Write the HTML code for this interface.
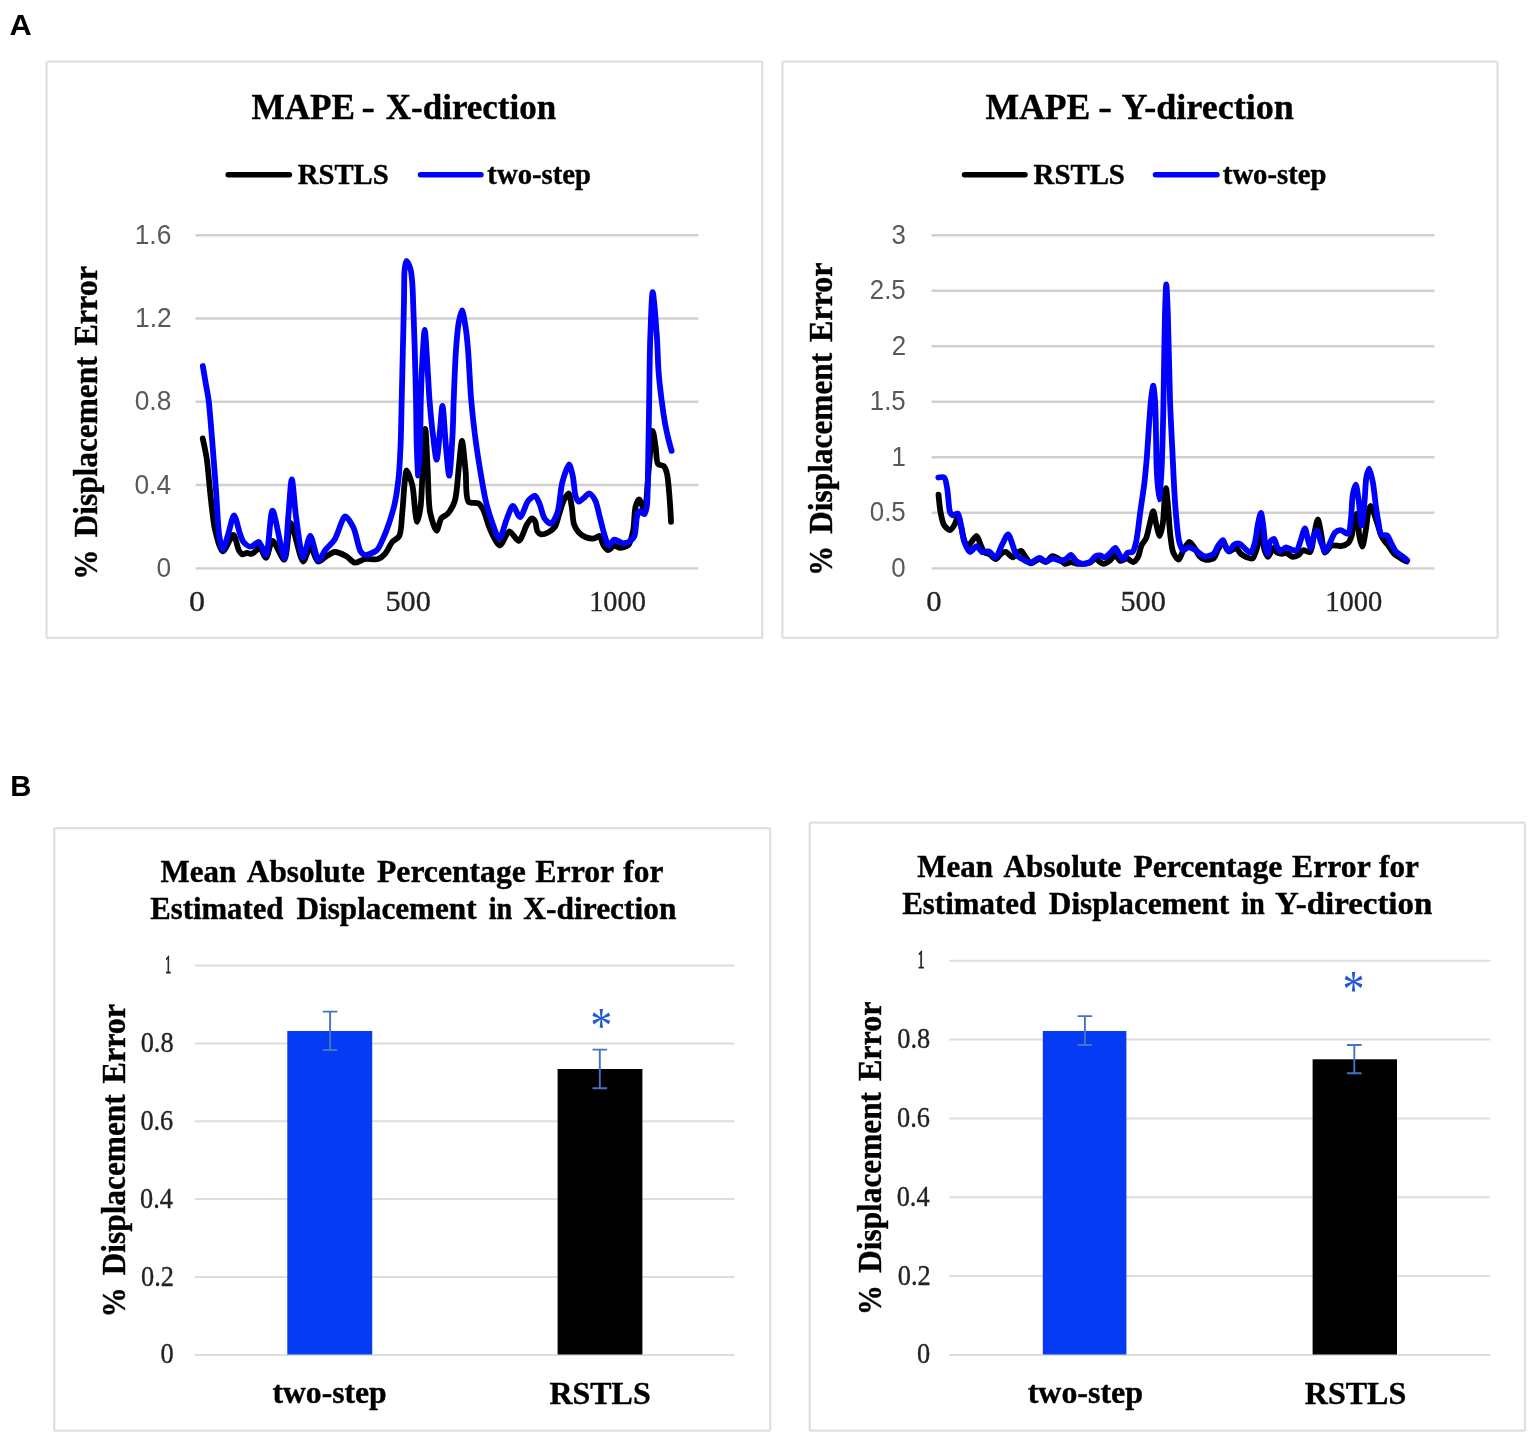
<!DOCTYPE html>
<html lang="en">
<head>
<meta charset="utf-8">
<title>MAPE comparison: RSTLS vs two-step</title>
<style>
html,body{margin:0;padding:0;background:#fff;}
body{width:1535px;height:1437px;overflow:hidden;}
svg{display:block;}
text{white-space:pre;}
</style>
</head>
<body>
<svg width="1535" height="1437" viewBox="0 0 1535 1437">
<rect width="1535" height="1437" fill="#fff"/>
<text transform="translate(9.53 34.70) scale(1.0299 1)" font-family='"Liberation Sans", sans-serif' font-size="29.86" font-weight="bold" fill="#000">A</text>
<text transform="translate(10.30 795.90) scale(0.9727 1)" font-family='"Liberation Sans", sans-serif' font-size="30.00" font-weight="bold" fill="#000">B</text>
<rect x="46.5" y="61.6" width="715.7" height="576.3" rx="1.5" fill="#fff" stroke="#e0e0e0" stroke-width="2.3"/>
<line x1="195.6" y1="235.2" x2="698.3" y2="235.2" stroke="#d0d0d0" stroke-width="2.4"/>
<line x1="195.6" y1="318.5" x2="698.3" y2="318.5" stroke="#d0d0d0" stroke-width="2.4"/>
<line x1="195.6" y1="401.8" x2="698.3" y2="401.8" stroke="#d0d0d0" stroke-width="2.4"/>
<line x1="195.6" y1="485.0" x2="698.3" y2="485.0" stroke="#d0d0d0" stroke-width="2.4"/>
<line x1="195.6" y1="568.4" x2="698.3" y2="568.4" stroke="#d0d0d0" stroke-width="2.4"/>
<text y="118.60" font-family='"Liberation Serif", serif' font-size="36.49" font-weight="bold" fill="#000" stroke="#000" stroke-width="0.4" stroke-linejoin="round"><tspan x="251.47" textLength="103.62" lengthAdjust="spacingAndGlyphs">MAPE</tspan> <tspan x="361.60" textLength="13.32" lengthAdjust="spacingAndGlyphs">-</tspan> <tspan x="385.80" textLength="170.41" lengthAdjust="spacingAndGlyphs">X-direction</tspan></text>
<line x1="228.2" y1="174.7" x2="289.4" y2="174.7" stroke="#000" stroke-width="5.5" stroke-linecap="round"/>
<text transform="translate(297.87 183.70) scale(0.9877 1)" font-family='"Liberation Serif", serif' font-size="29.01" font-weight="bold" fill="#000" stroke="#000" stroke-width="0.4" stroke-linejoin="round">RSTLS</text>
<line x1="420.5" y1="174.7" x2="481.0" y2="174.7" stroke="#0000ff" stroke-width="5.5" stroke-linecap="round"/>
<text transform="translate(487.37 183.60) scale(0.9775 1)" font-family='"Liberation Serif", serif' font-size="29.38" font-weight="bold" fill="#000" stroke="#000" stroke-width="0.4" stroke-linejoin="round">two-step</text>
<text transform="translate(134.72 243.80) scale(0.9709 1)" font-family='"Liberation Sans", sans-serif' font-size="27.14" fill="#595959">1.6</text>
<text transform="translate(134.99 327.10) scale(0.9709 1)" font-family='"Liberation Sans", sans-serif' font-size="27.14" fill="#595959">1.2</text>
<text transform="translate(134.72 410.40) scale(0.9709 1)" font-family='"Liberation Sans", sans-serif' font-size="27.14" fill="#595959">0.8</text>
<text transform="translate(134.46 493.60) scale(0.9709 1)" font-family='"Liberation Sans", sans-serif' font-size="27.14" fill="#595959">0.4</text>
<text transform="translate(156.60 577.00) scale(0.9709 1)" font-family='"Liberation Sans", sans-serif' font-size="27.14" fill="#595959">0</text>
<text transform="translate(188.91 611.30) scale(1.1133 1)" font-family='"Liberation Serif", serif' font-size="28.87" fill="#222" stroke="#222" stroke-width="0.3">0</text>
<text transform="translate(385.48 611.30) scale(1.0490 1)" font-family='"Liberation Serif", serif' font-size="28.87" fill="#222" stroke="#222" stroke-width="0.3">500</text>
<text transform="translate(589.19 611.30) scale(0.9827 1)" font-family='"Liberation Serif", serif' font-size="28.87" fill="#222" stroke="#222" stroke-width="0.3">1000</text>
<text transform="translate(96.80 576.50) rotate(-90)" font-family='"Liberation Serif", serif' font-size="32.98" font-weight="bold" fill="#000" stroke="#000" stroke-width="0.4" stroke-linejoin="round"><tspan x="-2.98" textLength="29.81" lengthAdjust="spacingAndGlyphs">%</tspan> <tspan x="39.13" textLength="180.93" lengthAdjust="spacingAndGlyphs">Displacement</tspan> <tspan x="231.02" textLength="79.33" lengthAdjust="spacingAndGlyphs">Error</tspan></text>
<path d="M202.7 438.4C202.7 438.4 205.9 452.9 206.8 459.2C208.0 467.4 209.3 485.2 210.4 494.6C211.5 504.1 213.1 521.9 215.1 530.1C216.7 536.6 220.2 551.1 222.8 551.4C225.2 551.7 231.2 534.6 233.4 534.9C235.4 535.1 237.3 547.5 238.8 550.2C239.7 551.8 241.2 554.1 242.3 554.4C243.4 554.7 245.7 553.1 247.0 553.0C248.3 552.9 250.6 554.1 251.8 553.8C253.1 553.5 255.4 551.2 256.5 550.2C257.4 549.3 258.6 546.6 259.5 546.7C261.0 546.8 264.4 558.0 266.0 557.9C267.9 557.7 270.2 541.0 272.5 540.8C275.0 540.6 282.0 560.2 284.3 559.7C287.3 559.1 288.2 523.2 290.6 523.0C293.1 522.8 300.1 561.3 303.2 561.5C305.2 561.6 308.3 546.7 310.3 546.7C312.3 546.7 315.6 560.8 318.0 561.5C319.7 562.0 323.1 558.5 325.1 557.3C327.4 556.0 331.9 552.2 334.6 552.0C337.5 551.8 343.6 554.7 346.4 556.2C348.9 557.6 352.2 562.3 354.7 562.7C357.2 563.1 362.0 559.5 365.0 559.0C368.2 558.5 375.2 560.0 378.0 559.1C380.3 558.3 383.4 555.7 385.1 553.8C387.3 551.4 390.1 544.5 392.2 542.0C393.9 540.0 397.9 538.5 399.3 536.0C401.5 532.0 401.6 519.1 402.3 512.4C403.1 505.0 403.9 489.0 404.6 482.8C405.1 478.8 405.7 470.5 406.6 470.4C407.6 470.3 411.2 480.6 412.3 485.2C413.8 491.3 414.5 507.0 415.3 512.4C415.8 515.6 416.5 521.8 417.1 521.8C417.9 521.8 419.9 511.7 420.6 506.5C421.9 497.4 422.3 470.3 423.0 459.1C423.6 450.2 424.7 429.0 425.3 429.0C426.0 429.0 427.1 459.8 427.7 471.0C428.3 482.1 428.3 503.7 430.1 512.4C431.3 518.4 435.0 530.7 436.6 530.7C437.9 530.7 439.5 520.7 441.3 518.3C442.7 516.5 446.2 515.4 447.8 513.6C450.0 511.1 453.5 505.1 454.9 500.6C457.1 493.6 458.0 473.7 459.0 465.1C459.8 458.0 461.2 440.8 462.0 440.8C462.9 440.8 464.7 462.9 465.6 471.0C466.5 479.1 465.3 498.2 468.5 501.7C470.4 503.7 476.6 502.2 478.6 503.5C480.4 504.6 482.1 507.7 483.3 510.0C485.3 513.8 488.1 525.2 490.4 530.1C492.6 534.6 497.3 545.5 499.9 545.5C502.4 545.5 506.6 531.6 509.3 531.3C511.7 531.1 516.6 541.2 518.8 540.8C521.4 540.4 525.0 527.4 527.1 524.2C528.4 522.1 530.6 518.4 531.8 518.3C532.7 518.2 534.3 519.9 535.0 521.0C536.1 522.8 536.3 529.5 537.4 531.3C538.1 532.5 539.7 534.0 540.9 534.3C542.4 534.6 546.2 533.4 548.0 532.5C550.0 531.5 553.6 528.7 555.1 526.5C556.9 523.8 558.3 516.6 559.5 513.0C560.7 509.5 562.5 502.8 564.0 500.0C565.1 497.9 567.7 493.3 568.7 493.5C570.0 493.8 571.0 502.7 571.7 506.5C572.5 510.8 572.7 520.5 574.0 524.2C574.9 526.9 577.1 530.7 578.8 532.5C580.4 534.2 583.8 536.4 585.9 537.2C587.9 538.0 592.3 538.7 594.2 538.4C595.8 538.2 598.3 535.6 599.5 536.0C601.0 536.6 602.2 543.5 603.6 545.5C604.7 547.1 606.9 550.1 608.3 550.2C609.8 550.3 612.6 545.7 614.3 545.5C615.8 545.3 618.5 547.9 620.2 547.9C622.2 547.9 626.8 546.6 628.5 544.9C630.7 542.6 632.3 534.6 633.2 530.1C634.3 524.6 634.3 510.9 635.6 506.5C636.3 504.0 638.1 499.4 639.1 499.4C640.4 499.4 643.3 510.2 644.4 510.0C646.5 509.6 647.5 481.5 648.6 471.0C649.7 460.4 651.5 430.8 652.7 430.8C653.5 430.8 655.0 442.9 655.7 447.3C656.4 451.7 656.2 461.6 658.0 463.9C659.1 465.3 662.7 465.1 663.9 466.2C665.2 467.5 666.3 470.8 666.9 473.3C668.0 477.4 668.8 488.6 669.3 494.6C669.9 501.4 671.0 521.8 671.0 521.8" fill="none" stroke="#000" stroke-width="5.8" stroke-linecap="round" stroke-linejoin="round"/>
<path d="M202.8 366.0C202.8 366.0 204.8 377.6 205.5 382.0C206.3 386.7 207.8 394.0 208.6 400.0C209.8 409.6 211.7 434.7 212.7 447.3C213.7 459.9 215.4 482.4 216.3 494.6C217.1 506.0 218.0 528.0 219.3 536.0C220.1 540.7 221.7 549.5 222.8 549.6C224.0 549.7 226.6 539.2 228.0 535.0C229.6 530.2 232.4 515.3 234.0 515.3C235.6 515.3 238.5 529.8 240.0 533.7C241.0 536.4 242.1 540.3 243.5 542.0C244.9 543.7 248.6 546.6 250.6 546.7C252.7 546.8 257.0 541.5 258.9 542.0C261.3 542.7 264.4 555.3 266.0 555.0C268.7 554.5 270.1 510.7 272.5 510.6C275.0 510.5 282.2 558.2 284.3 558.0C286.2 557.9 287.2 528.6 288.2 518.0C289.2 507.6 290.7 479.3 291.8 479.3C292.9 479.3 294.7 507.7 296.2 518.0C297.7 528.5 301.0 557.1 303.2 557.3C304.9 557.4 308.3 536.0 310.3 536.0C312.4 536.0 316.2 560.0 318.6 560.3C320.2 560.5 323.1 552.8 325.1 550.2C327.3 547.3 332.2 543.2 334.6 539.6C337.7 534.8 342.3 516.8 345.2 516.5C347.4 516.3 351.6 524.0 353.5 527.8C356.0 532.8 358.3 548.0 360.6 551.4C361.7 553.0 363.5 554.8 365.0 555.0C367.3 555.3 374.4 552.3 376.8 550.2C379.1 548.2 381.2 542.7 382.7 539.6C384.4 535.9 387.2 528.6 388.7 524.2C390.4 519.2 393.3 509.9 394.6 504.1C396.1 497.4 397.9 484.3 398.7 476.9C399.5 469.2 400.1 456.1 400.5 447.3C401.0 436.2 401.4 412.9 401.7 400.0C402.0 386.5 402.6 361.8 402.9 348.3C403.2 335.4 403.8 312.3 404.0 301.0C404.2 291.9 404.0 275.8 404.6 270.0C404.9 266.8 405.6 260.9 406.4 260.8C407.2 260.7 409.7 266.4 410.5 269.0C411.5 272.2 411.9 278.7 412.3 283.2C412.8 289.7 413.2 304.5 413.5 312.8C413.8 321.8 414.4 337.9 414.7 348.3C415.1 360.8 415.7 386.5 416.0 400.0C416.3 412.9 416.4 436.3 416.8 447.3C417.1 455.8 417.8 475.7 418.2 475.7C418.6 475.7 419.7 455.6 420.0 447.0C420.4 436.0 420.5 411.9 420.8 400.0C421.1 389.3 421.7 371.7 422.3 362.0C422.8 353.1 424.0 330.0 424.7 330.0C425.4 330.0 426.6 353.1 427.2 362.0C427.9 371.7 428.7 390.0 429.5 400.0C430.3 409.6 431.9 426.9 433.0 435.5C433.9 442.6 435.7 459.7 436.6 459.7C437.6 459.7 439.3 437.2 440.1 429.6C440.8 422.9 441.8 405.9 442.5 405.9C443.4 405.9 445.0 437.3 446.0 447.3C446.8 455.6 448.4 475.7 449.2 475.7C450.2 475.7 451.9 445.9 452.5 435.5C453.1 425.7 453.3 410.4 453.7 400.0C454.2 387.5 455.2 359.8 456.1 348.3C456.7 340.1 457.8 327.6 458.8 322.0C459.5 318.2 461.2 310.4 462.0 310.4C462.9 310.4 464.7 321.4 465.4 326.0C466.3 331.4 467.3 341.1 467.9 348.3C468.9 359.2 470.1 387.5 471.2 400.0C472.1 410.4 473.8 426.0 475.0 435.5C476.2 445.0 478.8 462.0 480.3 471.0C481.7 479.3 484.0 493.5 485.7 500.6C487.1 506.5 489.7 515.6 491.6 520.7C493.4 525.6 497.3 538.4 499.3 538.4C501.4 538.4 505.0 523.0 507.0 518.3C508.6 514.6 511.1 506.0 512.9 505.9C514.6 505.8 518.1 517.2 520.0 517.1C522.2 517.0 525.8 503.5 528.3 500.6C530.0 498.7 533.5 495.5 535.0 495.8C536.6 496.2 538.5 501.5 539.7 504.1C541.1 507.3 542.6 515.6 544.5 518.3C545.9 520.3 549.4 523.9 551.0 523.6C553.0 523.2 556.1 516.3 557.5 512.4C559.6 506.5 560.4 489.7 562.2 482.8C563.7 477.3 567.6 464.5 569.1 464.5C570.3 464.5 572.1 473.2 572.9 476.9C573.9 481.6 574.5 493.6 575.8 497.0C576.5 498.8 577.8 501.5 578.8 501.7C579.8 501.9 582.2 499.2 583.5 498.2C585.0 497.0 587.9 493.3 589.4 493.5C591.1 493.7 594.0 498.1 595.3 500.6C597.1 504.1 598.8 513.6 600.1 518.3C601.4 523.0 603.4 532.1 604.8 536.0C605.8 539.0 607.5 545.3 608.9 545.5C610.1 545.7 612.6 540.0 614.3 539.6C616.1 539.2 620.4 542.9 622.5 543.1C624.4 543.3 628.0 542.4 629.6 541.4C631.2 540.5 633.5 538.0 634.4 536.0C635.9 532.8 635.9 521.9 636.7 518.3C637.2 515.9 638.0 511.6 639.1 511.2C640.1 510.8 643.4 514.6 644.4 514.2C645.6 513.7 646.3 509.3 646.8 506.5C647.8 500.5 647.8 480.5 648.0 471.0C648.2 461.5 648.4 445.0 648.6 435.5C648.8 426.0 649.0 410.8 649.2 400.0C649.4 385.5 649.7 351.9 650.3 336.5C650.8 323.6 651.8 292.1 652.7 292.1C653.6 292.1 656.1 325.3 656.9 336.5C657.6 346.5 657.9 363.1 658.6 372.0C659.2 379.9 660.7 392.9 661.6 400.0C662.4 406.6 664.1 418.0 665.1 423.7C666.0 428.5 667.7 436.3 668.7 440.2C669.5 443.4 671.6 450.9 671.6 450.9" fill="none" stroke="#0000ff" stroke-width="5.8" stroke-linecap="round" stroke-linejoin="round"/>
<rect x="782.4" y="61.6" width="715.2" height="576.2" rx="1.5" fill="#fff" stroke="#e0e0e0" stroke-width="2.3"/>
<line x1="931.6" y1="235.2" x2="1434.4" y2="235.2" stroke="#d0d0d0" stroke-width="2.4"/>
<line x1="931.6" y1="290.7" x2="1434.4" y2="290.7" stroke="#d0d0d0" stroke-width="2.4"/>
<line x1="931.6" y1="346.2" x2="1434.4" y2="346.2" stroke="#d0d0d0" stroke-width="2.4"/>
<line x1="931.6" y1="401.8" x2="1434.4" y2="401.8" stroke="#d0d0d0" stroke-width="2.4"/>
<line x1="931.6" y1="457.3" x2="1434.4" y2="457.3" stroke="#d0d0d0" stroke-width="2.4"/>
<line x1="931.6" y1="512.8" x2="1434.4" y2="512.8" stroke="#d0d0d0" stroke-width="2.4"/>
<line x1="931.6" y1="568.4" x2="1434.4" y2="568.4" stroke="#d0d0d0" stroke-width="2.4"/>
<text y="118.60" font-family='"Liberation Serif", serif' font-size="36.49" font-weight="bold" fill="#000" stroke="#000" stroke-width="0.4" stroke-linejoin="round"><tspan x="985.57" textLength="104.75" lengthAdjust="spacingAndGlyphs">MAPE</tspan> <tspan x="1098.16" textLength="13.70" lengthAdjust="spacingAndGlyphs">-</tspan> <tspan x="1121.46" textLength="172.49" lengthAdjust="spacingAndGlyphs">Y-direction</tspan></text>
<line x1="964.5" y1="174.7" x2="1025.0" y2="174.7" stroke="#000" stroke-width="5.5" stroke-linecap="round"/>
<text transform="translate(1033.57 183.70) scale(0.9943 1)" font-family='"Liberation Serif", serif' font-size="29.01" font-weight="bold" fill="#000" stroke="#000" stroke-width="0.4" stroke-linejoin="round">RSTLS</text>
<line x1="1155.5" y1="174.7" x2="1217" y2="174.7" stroke="#0000ff" stroke-width="5.5" stroke-linecap="round"/>
<text transform="translate(1222.87 183.60) scale(0.9766 1)" font-family='"Liberation Serif", serif' font-size="29.38" font-weight="bold" fill="#000" stroke="#000" stroke-width="0.4" stroke-linejoin="round">two-step</text>
<text transform="translate(891.39 243.80) scale(0.9522 1)" font-family='"Liberation Sans", sans-serif' font-size="27.14" fill="#595959">3</text>
<text transform="translate(869.81 299.30) scale(0.9522 1)" font-family='"Liberation Sans", sans-serif' font-size="27.14" fill="#595959">2.5</text>
<text transform="translate(891.65 354.80) scale(0.9522 1)" font-family='"Liberation Sans", sans-serif' font-size="27.14" fill="#595959">2</text>
<text transform="translate(869.81 410.40) scale(0.9522 1)" font-family='"Liberation Sans", sans-serif' font-size="27.14" fill="#595959">1.5</text>
<text transform="translate(891.52 465.90) scale(0.9522 1)" font-family='"Liberation Sans", sans-serif' font-size="27.14" fill="#595959">1</text>
<text transform="translate(869.81 521.40) scale(0.9522 1)" font-family='"Liberation Sans", sans-serif' font-size="27.14" fill="#595959">0.5</text>
<text transform="translate(891.26 577.00) scale(0.9522 1)" font-family='"Liberation Sans", sans-serif' font-size="27.14" fill="#595959">0</text>
<text transform="translate(926.27 611.30) scale(1.0638 1)" font-family='"Liberation Serif", serif' font-size="28.87" fill="#222" stroke="#222" stroke-width="0.3">0</text>
<text transform="translate(1120.48 611.30) scale(1.0490 1)" font-family='"Liberation Serif", serif' font-size="28.87" fill="#222" stroke="#222" stroke-width="0.3">500</text>
<text transform="translate(1325.17 611.30) scale(0.9883 1)" font-family='"Liberation Serif", serif' font-size="28.87" fill="#222" stroke="#222" stroke-width="0.3">1000</text>
<text transform="translate(832.40 572.90) rotate(-90)" font-family='"Liberation Serif", serif' font-size="32.98" font-weight="bold" fill="#000" stroke="#000" stroke-width="0.4" stroke-linejoin="round"><tspan x="-2.98" textLength="29.81" lengthAdjust="spacingAndGlyphs">%</tspan> <tspan x="39.13" textLength="180.93" lengthAdjust="spacingAndGlyphs">Displacement</tspan> <tspan x="231.02" textLength="79.33" lengthAdjust="spacingAndGlyphs">Error</tspan></text>
<path d="M938.5 494.6C938.5 494.6 939.7 508.1 940.6 512.4C941.3 516.2 942.6 523.0 944.2 525.4C945.4 527.2 948.7 530.3 950.1 530.1C951.5 529.9 953.8 526.0 954.8 524.2C955.9 522.3 957.2 516.0 958.0 516.0C958.9 516.0 960.2 523.1 961.0 526.0C962.0 529.6 963.3 538.1 964.5 541.0C965.3 542.9 967.0 546.5 968.0 546.5C968.9 546.5 970.4 543.3 971.4 542.0C972.6 540.5 975.5 535.8 976.7 536.0C978.1 536.2 979.8 543.2 980.9 545.5C981.9 547.5 983.1 551.5 984.4 552.6C985.4 553.4 987.7 553.2 989.0 553.8C990.7 554.6 994.1 559.2 995.7 559.1C997.2 559.0 999.5 554.8 1001.0 553.8C1002.2 553.0 1004.4 551.8 1005.7 552.0C1007.5 552.2 1011.1 557.4 1012.8 557.3C1014.2 557.2 1016.3 553.5 1017.5 552.6C1018.5 551.9 1020.2 550.6 1021.1 550.8C1022.4 551.1 1024.5 555.6 1025.8 557.3C1027.1 558.9 1028.9 562.9 1030.6 563.3C1032.5 563.7 1037.2 559.1 1039.4 559.1C1041.3 559.1 1044.3 562.3 1046.0 562.0C1047.8 561.7 1050.5 556.5 1052.4 556.2C1054.3 555.9 1058.4 558.6 1060.1 559.7C1061.6 560.7 1063.5 563.5 1064.9 563.8C1066.3 564.1 1069.1 562.1 1070.8 562.1C1072.6 562.1 1075.8 563.6 1077.9 563.8C1080.6 564.0 1087.2 563.6 1089.7 562.7C1091.7 562.0 1094.2 558.5 1095.6 558.5C1096.9 558.5 1098.9 561.4 1100.0 562.1C1101.0 562.7 1102.4 563.8 1103.5 563.8C1104.9 563.8 1108.0 562.0 1109.5 560.9C1111.2 559.7 1114.0 554.9 1115.4 555.0C1116.8 555.1 1118.5 560.4 1120.1 560.9C1121.7 561.4 1125.4 558.3 1127.2 558.5C1128.9 558.7 1131.7 562.3 1133.1 562.1C1134.5 561.9 1136.9 559.0 1137.9 557.3C1139.3 555.0 1140.2 548.2 1141.4 545.5C1142.4 543.3 1145.1 540.7 1146.1 538.4C1147.4 535.4 1148.7 527.9 1149.7 524.2C1150.6 520.7 1152.3 511.2 1153.2 511.2C1154.1 511.2 1155.3 520.8 1156.2 524.2C1157.1 527.4 1158.8 536.0 1159.7 536.0C1160.6 536.0 1162.1 527.9 1162.7 524.2C1163.6 519.0 1164.0 505.9 1164.5 500.6C1164.9 496.7 1165.6 488.1 1166.0 488.1C1166.5 488.1 1167.5 501.0 1168.0 506.5C1168.7 513.4 1169.5 529.3 1170.4 536.0C1171.0 541.1 1171.8 549.2 1173.3 552.6C1174.4 555.1 1177.4 559.8 1178.7 559.7C1180.0 559.6 1181.5 553.6 1182.8 551.4C1184.3 548.9 1187.6 542.1 1189.3 542.0C1190.7 541.9 1193.3 546.1 1194.6 547.9C1196.0 549.9 1197.8 554.6 1199.4 556.2C1200.7 557.6 1203.5 559.3 1205.3 559.7C1207.3 560.1 1211.9 559.7 1213.6 558.5C1215.5 557.1 1216.9 551.2 1218.3 549.0C1219.5 547.0 1221.7 542.5 1223.0 542.5C1224.5 542.5 1227.1 550.9 1229.0 551.4C1230.6 551.8 1234.4 547.6 1236.0 547.9C1237.6 548.2 1239.3 552.5 1240.8 553.8C1242.2 555.0 1245.1 556.7 1246.7 557.3C1248.2 557.9 1251.3 559.2 1252.6 558.5C1254.3 557.6 1256.0 551.2 1257.0 548.0C1258.3 543.9 1259.9 530.1 1260.9 530.1C1261.9 530.1 1263.2 546.2 1264.5 550.0C1265.3 552.4 1267.2 556.8 1268.0 556.8C1268.6 556.8 1269.4 554.7 1270.0 553.8C1270.8 552.5 1272.5 548.1 1273.5 548.0C1274.4 547.9 1275.9 551.8 1277.1 552.6C1278.2 553.3 1280.5 553.7 1281.8 553.8C1283.1 553.9 1285.3 552.9 1286.6 553.2C1288.1 553.5 1290.9 556.6 1292.5 556.8C1294.0 557.0 1297.0 555.8 1298.4 555.0C1299.9 554.1 1301.6 550.6 1303.1 550.2C1304.7 549.8 1308.8 552.9 1310.2 552.0C1312.3 550.7 1312.8 540.3 1313.8 536.0C1314.8 531.6 1316.9 519.5 1317.9 519.5C1318.9 519.5 1320.6 531.6 1321.5 536.0C1322.4 540.4 1323.3 552.1 1325.0 552.6C1326.3 553.0 1329.4 546.4 1331.5 545.5C1333.6 544.6 1338.7 546.5 1341.0 546.1C1343.1 545.7 1346.7 544.4 1348.1 543.1C1349.5 541.8 1350.8 538.4 1351.6 536.0C1352.8 532.4 1353.6 521.5 1354.6 518.3C1355.2 516.6 1356.5 513.5 1357.0 513.6C1358.1 513.8 1358.4 531.1 1359.3 536.0C1359.9 539.4 1361.5 546.7 1362.3 546.7C1363.3 546.7 1365.0 534.6 1365.8 530.1C1366.6 525.5 1367.3 515.9 1368.2 512.4C1368.7 510.2 1369.9 505.9 1370.6 505.9C1371.3 505.9 1372.7 510.1 1373.5 512.0C1374.6 514.6 1376.5 520.9 1377.5 524.0C1378.5 527.0 1379.9 532.6 1381.0 535.0C1381.8 536.9 1383.5 539.6 1384.5 541.0C1385.4 542.3 1387.2 544.1 1388.3 545.5C1389.7 547.4 1392.5 552.1 1394.2 553.8C1395.7 555.2 1398.5 556.9 1400.1 557.9C1401.8 558.9 1406.6 561.5 1406.6 561.5" fill="none" stroke="#000" stroke-width="5.8" stroke-linecap="round" stroke-linejoin="round"/>
<path d="M938.3 477.5C938.3 477.5 943.0 476.6 944.2 477.5C945.8 478.7 946.5 485.1 947.2 488.7C948.2 493.8 948.7 509.2 950.1 512.4C950.6 513.7 951.6 515.0 952.5 515.3C953.6 515.6 956.7 513.0 957.8 513.6C959.3 514.4 960.0 521.0 960.8 524.2C961.8 528.3 962.8 538.0 964.3 542.0C965.5 545.2 968.4 551.7 970.2 552.0C971.8 552.2 975.1 546.0 976.7 546.1C978.2 546.2 980.3 551.3 982.0 552.0C983.6 552.6 987.4 550.8 989.1 551.4C991.0 552.1 994.1 557.6 995.7 557.3C997.7 556.9 1000.5 547.5 1002.2 544.3C1003.8 541.4 1006.7 534.2 1008.1 534.3C1009.5 534.4 1011.7 542.6 1012.8 545.5C1013.8 548.1 1014.9 553.1 1016.4 555.0C1017.8 556.8 1021.6 558.7 1023.5 559.7C1025.3 560.7 1028.6 562.8 1030.6 562.7C1032.8 562.6 1037.2 557.9 1039.4 557.9C1041.3 557.9 1044.1 561.4 1045.9 561.5C1047.7 561.6 1051.1 558.6 1053.0 558.5C1054.9 558.4 1058.3 560.9 1060.1 560.9C1061.7 560.9 1064.6 559.9 1066.0 559.1C1067.4 558.3 1069.5 554.9 1070.8 555.0C1072.3 555.1 1075.0 560.3 1076.7 561.5C1078.2 562.5 1080.9 563.7 1082.6 563.8C1084.4 563.9 1088.0 563.0 1089.7 562.1C1091.5 561.1 1094.0 557.0 1095.6 556.2C1096.8 555.6 1098.8 555.4 1100.0 555.5C1101.3 555.6 1103.4 557.5 1104.7 557.3C1106.3 557.1 1109.1 553.9 1110.6 552.6C1112.0 551.4 1114.3 547.7 1115.4 547.9C1116.7 548.1 1118.4 553.4 1119.5 555.0C1120.4 556.3 1122.1 559.1 1123.1 559.1C1124.3 559.0 1126.3 553.5 1127.8 552.6C1128.9 551.9 1131.5 552.8 1132.5 552.0C1134.0 550.8 1135.3 545.4 1136.1 542.0C1137.5 536.3 1139.1 520.3 1140.2 512.4C1141.3 504.5 1143.5 490.3 1144.4 482.8C1145.2 476.1 1146.1 466.1 1146.7 459.1C1147.4 450.6 1148.5 432.2 1149.1 423.7C1149.6 416.7 1150.4 405.5 1151.0 400.0C1151.5 395.7 1152.7 385.6 1153.2 385.6C1153.7 385.6 1154.6 395.3 1155.0 400.0C1155.6 407.4 1155.8 426.0 1156.0 435.5C1156.2 445.0 1156.3 462.1 1156.8 471.0C1157.2 479.0 1158.6 499.4 1159.2 499.4C1159.8 499.4 1161.0 479.0 1161.5 471.0C1162.0 462.1 1162.4 445.0 1162.7 435.5C1163.0 426.0 1163.3 411.6 1163.5 400.0C1163.9 381.9 1164.5 329.7 1165.0 312.8C1165.3 303.2 1165.9 284.4 1166.3 284.4C1166.7 284.4 1167.4 303.2 1167.8 312.8C1168.5 329.7 1169.3 380.3 1170.0 400.0C1170.5 414.5 1171.6 435.6 1172.2 447.3C1172.7 457.4 1173.4 473.3 1173.9 482.8C1174.4 492.3 1175.5 509.8 1176.3 518.3C1177.0 525.3 1178.0 537.4 1179.3 542.0C1180.1 544.8 1181.4 549.7 1182.8 550.2C1184.0 550.7 1187.0 547.4 1188.7 547.3C1190.5 547.2 1193.9 549.1 1195.8 550.2C1198.0 551.4 1201.7 555.7 1204.1 556.2C1206.5 556.7 1211.7 555.2 1213.6 553.8C1215.5 552.4 1216.9 547.4 1218.3 545.5C1219.5 543.9 1221.9 540.0 1223.0 540.2C1224.2 540.4 1225.5 547.6 1226.6 549.1C1227.3 550.0 1228.7 551.5 1229.5 551.4C1230.6 551.2 1232.2 545.9 1233.7 544.9C1235.0 544.0 1238.1 543.3 1239.6 543.7C1241.3 544.2 1243.9 547.9 1245.5 549.1C1246.9 550.2 1249.6 553.0 1250.8 552.6C1252.4 552.1 1254.1 545.2 1255.0 542.0C1256.1 537.9 1257.0 528.4 1257.9 524.2C1258.6 520.8 1260.2 513.0 1260.9 513.0C1261.8 513.0 1263.2 525.5 1263.8 530.1C1264.4 534.8 1264.7 544.5 1265.6 547.9C1266.1 549.9 1267.5 553.9 1268.0 553.8C1268.7 553.7 1268.8 544.0 1270.0 542.0C1270.8 540.7 1273.2 538.7 1274.1 539.0C1275.2 539.3 1276.1 545.0 1277.1 546.7C1277.9 548.0 1279.5 550.6 1280.6 550.8C1281.8 551.0 1284.5 547.4 1286.0 547.3C1287.4 547.2 1289.9 549.2 1291.3 549.6C1292.7 550.0 1295.5 550.8 1296.6 550.2C1298.1 549.4 1299.2 544.5 1300.2 542.0C1301.4 538.9 1303.8 528.4 1304.9 528.4C1305.9 528.4 1307.1 536.9 1307.9 539.6C1308.6 542.0 1310.1 547.9 1310.8 547.9C1311.7 547.9 1312.7 538.5 1313.8 536.0C1314.6 534.2 1316.5 530.6 1317.3 530.7C1318.4 530.9 1319.7 539.2 1320.9 542.0C1322.0 544.7 1324.3 551.4 1325.6 551.4C1326.9 551.4 1329.0 544.5 1330.3 542.0C1331.6 539.5 1333.5 534.1 1335.1 532.5C1336.3 531.3 1338.9 530.1 1340.4 530.1C1342.3 530.1 1346.7 534.4 1348.1 533.7C1350.0 532.7 1350.4 522.9 1351.0 518.3C1351.7 512.7 1351.9 499.5 1352.8 494.6C1353.4 491.3 1355.1 484.6 1355.8 484.6C1356.7 484.7 1358.0 495.9 1358.7 500.6C1359.6 506.5 1360.9 525.4 1361.7 525.4C1362.5 525.4 1364.0 507.1 1364.6 500.6C1365.2 494.2 1365.5 481.6 1366.4 476.9C1367.0 474.1 1368.4 468.6 1369.1 468.6C1370.1 468.6 1372.1 478.5 1372.9 482.8C1374.0 488.3 1375.1 500.6 1375.9 506.5C1376.6 511.6 1378.0 520.1 1378.8 524.2C1379.4 527.4 1379.7 533.6 1381.2 534.9C1382.3 535.9 1385.9 534.7 1387.1 535.5C1388.5 536.4 1389.7 540.1 1390.7 542.0C1391.9 544.2 1393.9 548.9 1395.4 550.8C1396.8 552.4 1399.7 554.3 1401.3 555.6C1402.9 556.9 1407.2 560.3 1407.2 560.3" fill="none" stroke="#0000ff" stroke-width="5.8" stroke-linecap="round" stroke-linejoin="round"/>
<rect x="54.2" y="828.2" width="716.0" height="602.4" rx="1.5" fill="#fff" stroke="#e0e0e0" stroke-width="2.3"/>
<line x1="194.6" y1="965.5" x2="734.4" y2="965.5" stroke="#dedede" stroke-width="2.0"/>
<line x1="194.6" y1="1043.4" x2="734.4" y2="1043.4" stroke="#dedede" stroke-width="2.0"/>
<line x1="194.6" y1="1121.3" x2="734.4" y2="1121.3" stroke="#dedede" stroke-width="2.0"/>
<line x1="194.6" y1="1199.1" x2="734.4" y2="1199.1" stroke="#dedede" stroke-width="2.0"/>
<line x1="194.6" y1="1277.0" x2="734.4" y2="1277.0" stroke="#dedede" stroke-width="2.0"/>
<line x1="194.6" y1="1354.9" x2="734.4" y2="1354.9" stroke="#dedede" stroke-width="2.0"/>
<text y="881.60" font-family='"Liberation Serif", serif' font-size="30.99" font-weight="bold" fill="#000" stroke="#000" stroke-width="0.4" stroke-linejoin="round"><tspan x="160.54" textLength="75.69" lengthAdjust="spacingAndGlyphs">Mean</tspan> <tspan x="246.79" textLength="118.24" lengthAdjust="spacingAndGlyphs">Absolute</tspan> <tspan x="377.03" textLength="148.80" lengthAdjust="spacingAndGlyphs">Percentage</tspan> <tspan x="535.33" textLength="78.32" lengthAdjust="spacingAndGlyphs">Error</tspan> <tspan x="623.24" textLength="40.09" lengthAdjust="spacingAndGlyphs">for</tspan></text>
<text y="918.70" font-family='"Liberation Serif", serif' font-size="30.99" font-weight="bold" fill="#000" stroke="#000" stroke-width="0.4" stroke-linejoin="round"><tspan x="150.34" textLength="133.06" lengthAdjust="spacingAndGlyphs">Estimated</tspan> <tspan x="296.53" textLength="180.03" lengthAdjust="spacingAndGlyphs">Displacement</tspan> <tspan x="488.73" textLength="23.66" lengthAdjust="spacingAndGlyphs">in</tspan> <tspan x="523.37" textLength="153.09" lengthAdjust="spacingAndGlyphs">X-direction</tspan></text>
<text transform="translate(165.19 973.10) scale(0.4514 1)" font-family='"Liberation Serif", serif' font-size="26.21" fill="#222" stroke="#222" stroke-width="1.1">1</text>
<text transform="translate(140.65 1051.90) scale(0.9262 1)" font-family='"Liberation Serif", serif' font-size="28.42" fill="#222" stroke="#222" stroke-width="0.35">0.8</text>
<text transform="translate(140.38 1129.80) scale(0.9262 1)" font-family='"Liberation Serif", serif' font-size="28.42" fill="#222" stroke="#222" stroke-width="0.35">0.6</text>
<text transform="translate(139.99 1207.60) scale(0.9262 1)" font-family='"Liberation Serif", serif' font-size="28.42" fill="#222" stroke="#222" stroke-width="0.35">0.4</text>
<text transform="translate(141.04 1285.50) scale(0.9262 1)" font-family='"Liberation Serif", serif' font-size="28.42" fill="#222" stroke="#222" stroke-width="0.35">0.2</text>
<text transform="translate(160.39 1363.40) scale(0.9262 1)" font-family='"Liberation Serif", serif' font-size="28.42" fill="#222" stroke="#222" stroke-width="0.35">0</text>
<text transform="translate(124.60 1314.40) rotate(-90)" font-family='"Liberation Serif", serif' font-size="32.98" font-weight="bold" fill="#000" stroke="#000" stroke-width="0.4" stroke-linejoin="round"><tspan x="-2.98" textLength="29.81" lengthAdjust="spacingAndGlyphs">%</tspan> <tspan x="39.13" textLength="180.93" lengthAdjust="spacingAndGlyphs">Displacement</tspan> <tspan x="231.02" textLength="79.33" lengthAdjust="spacingAndGlyphs">Error</tspan></text>
<rect x="287.3" y="1031.0" width="84.9" height="323.5" fill="#063bf5"/>
<path d="M330.1 1011.6V1050.0M322.8 1011.6H337.40000000000003M322.8 1050.0H337.40000000000003" fill="none" stroke="#4472c4" stroke-width="1.9"/>
<rect x="557.6" y="1069.0" width="84.8" height="285.5" fill="#000"/>
<path d="M599.8 1049.6V1088.3M592.5 1049.6H607.0999999999999M592.5 1088.3H607.0999999999999" fill="none" stroke="#4472c4" stroke-width="1.9"/>
<text transform="translate(272.53 1403.10) scale(0.9980 1)" font-family='"Liberation Serif", serif' font-size="31.68" font-weight="bold" fill="#000" stroke="#000" stroke-width="0.4" stroke-linejoin="round">two-step</text>
<text transform="translate(549.52 1403.50) scale(1.0152 1)" font-family='"Liberation Serif", serif' font-size="31.45" font-weight="bold" fill="#000" stroke="#000" stroke-width="0.4" stroke-linejoin="round">RSTLS</text>
<text transform="translate(590.30 1042.14) scale(0.8543 1)" font-family='"Liberation Serif", serif' font-size="51.51" fill="#2458d0">*</text>
<rect x="809.8" y="822.6" width="715.2" height="608.0" rx="1.5" fill="#fff" stroke="#e0e0e0" stroke-width="2.3"/>
<line x1="949.4" y1="960.8" x2="1490.2" y2="960.8" stroke="#dedede" stroke-width="2.0"/>
<line x1="949.4" y1="1039.6" x2="1490.2" y2="1039.6" stroke="#dedede" stroke-width="2.0"/>
<line x1="949.4" y1="1118.4" x2="1490.2" y2="1118.4" stroke="#dedede" stroke-width="2.0"/>
<line x1="949.4" y1="1197.3" x2="1490.2" y2="1197.3" stroke="#dedede" stroke-width="2.0"/>
<line x1="949.4" y1="1276.1" x2="1490.2" y2="1276.1" stroke="#dedede" stroke-width="2.0"/>
<line x1="949.4" y1="1354.9" x2="1490.2" y2="1354.9" stroke="#dedede" stroke-width="2.0"/>
<text y="876.80" font-family='"Liberation Serif", serif' font-size="30.99" font-weight="bold" fill="#000" stroke="#000" stroke-width="0.4" stroke-linejoin="round"><tspan x="917.34" textLength="75.69" lengthAdjust="spacingAndGlyphs">Mean</tspan> <tspan x="1003.59" textLength="117.84" lengthAdjust="spacingAndGlyphs">Absolute</tspan> <tspan x="1133.42" textLength="148.90" lengthAdjust="spacingAndGlyphs">Percentage</tspan> <tspan x="1292.03" textLength="78.12" lengthAdjust="spacingAndGlyphs">Error</tspan> <tspan x="1379.04" textLength="39.88" lengthAdjust="spacingAndGlyphs">for</tspan></text>
<text y="913.80" font-family='"Liberation Serif", serif' font-size="30.99" font-weight="bold" fill="#000" stroke="#000" stroke-width="0.4" stroke-linejoin="round"><tspan x="902.24" textLength="133.87" lengthAdjust="spacingAndGlyphs">Estimated</tspan> <tspan x="1048.83" textLength="180.43" lengthAdjust="spacingAndGlyphs">Displacement</tspan> <tspan x="1241.23" textLength="23.66" lengthAdjust="spacingAndGlyphs">in</tspan> <tspan x="1275.01" textLength="157.28" lengthAdjust="spacingAndGlyphs">Y-direction</tspan></text>
<text transform="translate(917.67 968.40) scale(0.5051 1)" font-family='"Liberation Serif", serif' font-size="26.21" fill="#222" stroke="#222" stroke-width="1.1">1</text>
<text transform="translate(897.35 1048.10) scale(0.9262 1)" font-family='"Liberation Serif", serif' font-size="28.42" fill="#222" stroke="#222" stroke-width="0.35">0.8</text>
<text transform="translate(897.08 1126.90) scale(0.9262 1)" font-family='"Liberation Serif", serif' font-size="28.42" fill="#222" stroke="#222" stroke-width="0.35">0.6</text>
<text transform="translate(896.69 1205.80) scale(0.9262 1)" font-family='"Liberation Serif", serif' font-size="28.42" fill="#222" stroke="#222" stroke-width="0.35">0.4</text>
<text transform="translate(897.74 1284.60) scale(0.9262 1)" font-family='"Liberation Serif", serif' font-size="28.42" fill="#222" stroke="#222" stroke-width="0.35">0.2</text>
<text transform="translate(917.09 1363.40) scale(0.9262 1)" font-family='"Liberation Serif", serif' font-size="28.42" fill="#222" stroke="#222" stroke-width="0.35">0</text>
<text transform="translate(881.20 1312.00) rotate(-90)" font-family='"Liberation Serif", serif' font-size="32.98" font-weight="bold" fill="#000" stroke="#000" stroke-width="0.4" stroke-linejoin="round"><tspan x="-2.98" textLength="29.81" lengthAdjust="spacingAndGlyphs">%</tspan> <tspan x="39.13" textLength="180.93" lengthAdjust="spacingAndGlyphs">Displacement</tspan> <tspan x="231.02" textLength="79.33" lengthAdjust="spacingAndGlyphs">Error</tspan></text>
<rect x="1042.8" y="1031.0" width="83.6" height="323.5" fill="#063bf5"/>
<path d="M1084.9 1016.1V1045.0M1077.6000000000001 1016.1H1092.2M1077.6000000000001 1045.0H1092.2" fill="none" stroke="#4472c4" stroke-width="1.9"/>
<rect x="1312.6" y="1059.3" width="84.4" height="295.2" fill="#000"/>
<path d="M1354.3 1045.0V1073.2M1347.0 1045.0H1361.6M1347.0 1073.2H1361.6" fill="none" stroke="#4472c4" stroke-width="1.9"/>
<text transform="translate(1027.72 1403.10) scale(1.0077 1)" font-family='"Liberation Serif", serif' font-size="31.68" font-weight="bold" fill="#000" stroke="#000" stroke-width="0.4" stroke-linejoin="round">two-step</text>
<text transform="translate(1304.82 1403.70) scale(1.0183 1)" font-family='"Liberation Serif", serif' font-size="31.45" font-weight="bold" fill="#000" stroke="#000" stroke-width="0.4" stroke-linejoin="round">RSTLS</text>
<text transform="translate(1342.50 1006.90) scale(0.8453 1)" font-family='"Liberation Serif", serif' font-size="52.05" fill="#2458d0">*</text>
</svg>
</body>
</html>
